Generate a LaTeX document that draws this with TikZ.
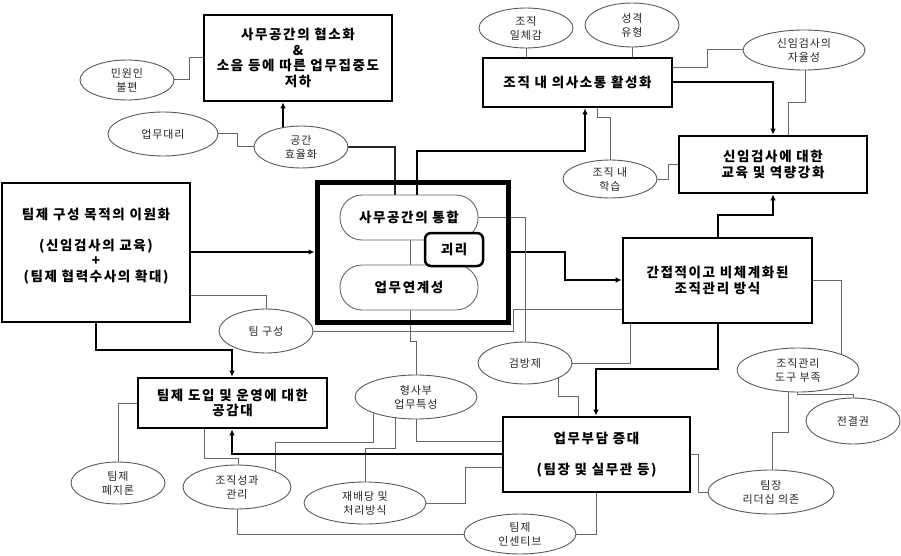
\documentclass[tikz,border=0pt]{standalone}
\usepackage{fontspec}
\setmainfont{Noto Sans CJK KR}
\newfontfamily\boxfam{Noto Sans CJK KR}[LetterSpace=12]
\newfontfamily\ovalfam{Noto Sans CJK KR}[LetterSpace=8]
\usetikzlibrary{arrows.meta,shapes.geometric}
\pgfdeclarelayer{bg}
\pgfsetlayers{bg,main}
\newcommand\boxfont{\boxfam\fontsize{13.5}{15.5}\selectfont\bfseries}
\newcommand\ovalfont{\ovalfam\fontsize{11}{14}\selectfont}
\tikzset{
  box/.style={draw=black, line width=2.6pt, fill=white, align=center, font=\boxfont, inner sep=2pt},
  oval/.style={ellipse, draw=black!65, line width=0.9pt, fill=white, align=center, font=\ovalfont, inner sep=0pt, text=black!85},
  pill/.style={draw=black!60, line width=0.9pt, fill=white, rounded corners=22pt, font=\boxfont, minimum width=138pt, minimum height=45pt},
  thinln/.style={draw=black!60, line width=1pt},
  midln/.style={draw=black!85, line width=1.4pt},
  thickln/.style={draw=black, line width=2pt, -{Latex[length=6pt,width=5.5pt]}},
}
\begin{document}
\begin{tikzpicture}[x=1pt,y=-1pt]
\useasboundingbox (0,0) rectangle (901,556);
% boxes
\node[box, minimum width=188pt, minimum height=86pt] (b1) at (298,58) {사무공간의 협소화\\\&\\소음 등에 따른 업무집중도\\저하};
\node[box, minimum width=189pt, minimum height=49pt] (b2) at (577.5,82.5) {조직 내 의사소통 활성화};
\node[box, minimum width=188pt, minimum height=57pt] (b3) at (773,164.5) {신임검사에 대한\\교육 및 역량강화};
\node[box, minimum width=188pt, minimum height=139pt] (b4) at (96,252.5) {팀제 구성 목적의 이원화\\[15pt](신임검사의 교육)\\+\\(팀제 협력수사의 확대)\\\mbox{}};
\node[draw=black, line width=5pt, minimum width=191pt, minimum height=140pt] (cen) at (412.5,252) {};
\node[pill] (s1) at (409,217.5) {사무공간의 통합};
\node[pill] (s2) at (409,287.5) {업무연계성};
\node[draw=black, line width=2.5pt, fill=white, rounded corners=6pt, minimum width=58pt, minimum height=33pt, font=\boxfont] (gap) at (454,249.5) {괴리};
\node[box, minimum width=189pt, minimum height=85pt] (b6) at (717.5,280.5) {간접적이고 비체계화된\\조직관리 방식};
\node[box, minimum width=189pt, minimum height=50pt] (b7) at (232.5,403) {팀제 도입 및 운영에 대한\\공감대};
\node[box, minimum width=187pt, minimum height=75pt] (b8) at (596.5,454.5) {업무부담 증대\\[15pt](팀장 및 실무관 등)};
% ellipses
\node[oval, minimum width=94pt, minimum height=40pt] (eminwon) at (127,80) {민원인\\불편};
\node[oval, minimum width=110pt, minimum height=44pt] (edaeri) at (163,134) {업무대리};
\node[oval, minimum width=94pt, minimum height=42pt] (egonggan) at (301,147) {공간\\효율화};
\node[oval, minimum width=94pt, minimum height=40pt] (eilche) at (526,28) {조직\\일체감};
\node[oval, minimum width=94pt, minimum height=44pt] (esung) at (632,25) {성격\\유형};
\node[oval, minimum width=122pt, minimum height=40pt] (ejayul) at (804,50) {신임검사의\\자율성};
\node[oval, minimum width=94pt, minimum height=38pt] (ehak) at (610,179) {조직 내\\학습};
\node[oval, minimum width=94pt, minimum height=44pt] (eteam) at (266,331) {팀 구성};
\node[oval, minimum width=94pt, minimum height=42pt] (egum) at (525,363) {검방제};
\node[oval, minimum width=122pt, minimum height=44pt] (ehyung) at (416,397) {형사부\\업무특성};
\node[oval, minimum width=122pt, minimum height=44pt] (edogu) at (798,370) {조직관리\\도구 부족};
\node[oval, minimum width=94pt, minimum height=46pt] (ejun) at (853,421) {전결권};
\node[oval, minimum width=126pt, minimum height=44pt] (elead) at (771,492) {팀장\\리더십 의존};
\node[oval, minimum width=94pt, minimum height=42pt] (epyeji) at (118,483) {팀제\\폐지론};
\node[oval, minimum width=108pt, minimum height=44pt] (esgwa) at (237,487) {조직성과\\관리};
\node[oval, minimum width=122pt, minimum height=42pt] (ejae) at (365,503) {재배당 및\\처리방식};
\node[oval, minimum width=112pt, minimum height=40pt] (einc) at (520,534) {팀제\\인센티브};
% connectors
\begin{pgfonlayer}{bg}
\draw[thinln] (eminwon) -- (189,80) |- (b1.west |- 0,58);
\draw[thinln] (edaeri) -- (237,134) |- (egonggan);
\draw[thickln] (283,0 |- egonggan) -- (283,0 |- b1.south);
\draw[midln] (egonggan) -| (395,0 |- s1);
\draw[thickln] (417,0 |- s1) |- (585,151) -- (585,0 |- b2.south);
\draw[thickln] (b4.east |- 0,252) -- (cen.west |- 0,252);
\draw[thinln] (b4.east |- 0,295) -| (eteam);
\draw[thinln] (eteam) -- (513,331) -- (513,309) -- (b6.west |- 0,309);
\draw[thickln] (b4.south) -- (96,350) -| (232,0 |- b7.north);
\draw[thinln] (410,0 |- s1) -- (410,0 |- s2);
\draw[thinln] (410,0 |- s2) -- (410,341) -- (416,341) -- (ehyung);
\draw[thickln] (cen.east |- 0,252) -- (565,252) -- (565,280) -- (b6.west |- 0,280);
\draw[thinln] (s1) -| (egum);
\draw[thinln] (egum) -| (630,0 |- b6.south);
\draw[thinln] (558,0 |- egum) -- (558,396) -| (578,0 |- b8.north);
\draw[thickln] (718,0 |- b6.south) |- (596,369) -- (596,0 |- b8.north);
\draw[thickln] (718,0 |- b6.north) |- (773,215) -- (773,0 |- b3.south);
\draw[thickln] (b2.east) -| (b3.north);
\draw[thinln] (eilche) -- (eilche |- b2.north);
\draw[thinln] (esung) -- (esung |- b2.north);
\draw[thinln] (ejayul) -- (707,0 |- ejayul) |- (b2.east |- 0,68);
\draw[thinln] (805,0 |- ejayul) |- (788,103) -- (788,0 |- b3.north);
\draw[thinln] (ehak) |- (597,118) -- (597,0 |- b2.south);
\draw[thinln] (ehak) -- (668,179) -- (668,165) -- (b3.west |- 0,165);
\draw[thinln] (ehyung) |- (b8.west |- 0,441);
\draw[thinln] (395,0 |- ehyung) |- (365,448) -- (ejae);
\draw[thinln] (373,0 |- ehyung) |- (275,442) -- (275,0 |- esgwa);
\draw[thinln] (ejae) -- (465,0 |- ejae) |- (b8.west |- 0,467);
\draw[thickln] (b8.west |- 0,454) -| (232,0 |- b7.south);
\draw[thinln] (238,0 |- esgwa) |- (204,458) -- (204,0 |- b7.south);
\draw[thinln] (epyeji) |- (b7.west);
\draw[thinln] (esgwa) |- (einc);
\draw[thinln] (einc) -| (596,0 |- b8.south);
\draw[thinln] (b8.east) -- (698,0 |- b8.east) |- (elead);
\draw[thinln] (b6.east) -| (841,0 |- edogu);
\draw[thinln] (788,0 |- edogu) |- (772,432) -- (772,0 |- elead);
\draw[thinln] (797,0 |- edogu) |- (853,394) -- (ejun);
\end{pgfonlayer}
\end{tikzpicture}
\end{document}
